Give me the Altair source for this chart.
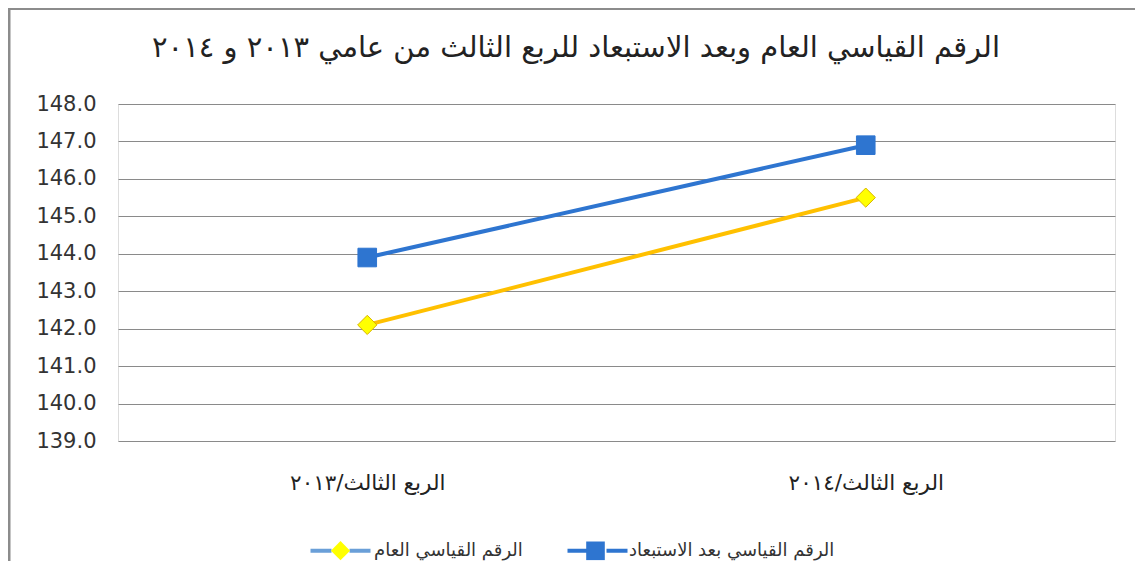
import altair as alt
import pandas as pd

# ---- data ----
categories = ["الربع الثالث/٢٠١٣", "الربع الثالث/٢٠١٤"]
series_names = ["الرقم القياسي العام", "الرقم القياسي بعد الاستبعاد"]
general_index = [142.1, 145.5]
excluded_index = [143.9, 146.9]
y_ticks = [139, 140, 141, 142, 143, 144, 145, 146, 147, 148]
title_text = "الرقم القياسي العام وبعد الاستبعاد للربع الثالث من عامي ٢٠١٣ و ٢٠١٤"

line_keys = ["a1", "a2"]
marker_keys = ["b1", "b2"]

rows = []
for i, c in enumerate(categories):
    rows.append({"quarter": c, "series": series_names[0], "lk": line_keys[0], "mk": marker_keys[0],
                 "value": general_index[i]})
    rows.append({"quarter": c, "series": series_names[1], "lk": line_keys[1], "mk": marker_keys[1],
                 "value": excluded_index[i]})
df = pd.DataFrame(rows)

FONT = "DejaVu Sans"
line_colors = ["#FFC000", "#2E75D0"]
marker_fills = ["#FFFF00", "#2E75D0"]
legend_line_colors = ["#6A9FD8", "#2E75D0"]
diamond_path = "M0,-0.32L0.32,0L0,0.32L-0.32,0Z"
square_path = "M-0.31,-0.31H0.31V0.31H-0.31Z"
# legend line drawn as two thin filled bars with a gap for the marker
legend_bar_path = "M-1,-0.065H-0.3V0.065H-1ZM0.3,-0.065H1V0.065H0.3Z"

x_enc = alt.X(
    "quarter:N",
    sort=categories,
    scale=alt.Scale(type="point", padding=0.5),
    axis=alt.Axis(
        title=None, labelAngle=0, ticks=False, domain=False, grid=False,
        labelFont=FONT, labelFontSize=21.5, labelColor="#222", labelPadding=31,
        labelLimit=400,
    ),
)
y_enc = alt.Y(
    "value:Q",
    scale=alt.Scale(domain=[139, 148], nice=False, zero=False),
    axis=alt.Axis(
        title=None, values=y_ticks, format=".1f", ticks=False, domain=False,
        grid=True, gridColor="#8a8a8a", gridWidth=1,
        labelFont=FONT, labelFontSize=21, labelColor="#333", labelPadding=22,
    ),
)

common_legend = dict(
    title=None, orient="none", legendX=192, legendY=416, direction="horizontal",
    symbolSize=3600, labelFont=FONT, labelFontSize=18, symbolStrokeWidth=0.8,
    columnPadding=42, labelOffset=3, padding=0, labelLimit=400, symbolOpacity=1,
)


def label_expr(keys):
    return "datum.label == '%s' ? '%s' : '%s'" % (keys[0], series_names[0], series_names[1])


base = alt.Chart(df)

lines = base.mark_line(strokeWidth=4).encode(
    x=x_enc, y=y_enc,
    color=alt.Color("series:N", scale=alt.Scale(domain=series_names, range=line_colors), legend=None),
)

points = base.mark_point(filled=True, size=3600, strokeWidth=1, opacity=1).encode(
    x=x_enc, y=y_enc,
    fill=alt.Fill("series:N", scale=alt.Scale(domain=series_names, range=marker_fills), legend=None),
    shape=alt.Shape("series:N", scale=alt.Scale(domain=series_names, range=[diamond_path, square_path]),
                    legend=None),
    stroke=alt.condition(alt.datum.series == series_names[0], alt.value("#D9B300"), alt.value("#2E75D0")),
)

legend_line_layer = base.mark_point(opacity=0, size=1, filled=True).encode(
    x=x_enc, y=y_enc,
    fill=alt.Fill("lk:N", scale=alt.Scale(domain=line_keys, range=legend_line_colors),
                  legend=alt.Legend(**common_legend, symbolType=legend_bar_path,
                                    symbolStrokeColor="transparent",
                                    labelColor="transparent",
                                    labelExpr=label_expr(line_keys))),
)

marker_legend = alt.Legend(**common_legend, labelExpr=label_expr(marker_keys), labelColor="#333",
                           symbolStrokeColor="#E0C000")
legend_marker_layer = base.mark_point(opacity=0, size=1, filled=True).encode(
    x=x_enc, y=y_enc,
    fill=alt.Fill("mk:N", scale=alt.Scale(domain=marker_keys, range=marker_fills), legend=marker_legend),
    shape=alt.Shape("mk:N", scale=alt.Scale(domain=marker_keys, range=[diamond_path, square_path]),
                    legend=marker_legend),
)

one = pd.DataFrame({"t": [title_text]})
title = alt.Chart(one).mark_text(
    font=FONT, fontSize=29, color="#222", align="center", baseline="alphabetic"
).encode(x=alt.value(458), y=alt.value(-47), text="t:N")

frame_left = alt.Chart(pd.DataFrame({"k": [0]})).mark_rule(color="#8c8c8c", strokeWidth=3).encode(
    x=alt.value(-109), y=alt.value(-96), y2=alt.value(476)
)
frame_top = alt.Chart(pd.DataFrame({"k": [0]})).mark_rule(color="#8c8c8c", strokeWidth=2).encode(
    x=alt.value(-110), x2=alt.value(1017), y=alt.value(-95)
)

chart = (
    alt.layer(legend_line_layer, legend_marker_layer, lines, points, title, frame_left, frame_top)
    .resolve_scale(fill="independent", shape="independent", stroke="independent")
    .properties(
        width=997, height=337,
        autosize=alt.AutoSizeParams(type="none"),
        padding={"left": 110, "top": 96, "right": 20, "bottom": 120},
    )
    .configure_view(stroke=None)
    .configure(background="white")
)

chart.save("out.html", embed_options={"renderer": "svg", "actions": False})
